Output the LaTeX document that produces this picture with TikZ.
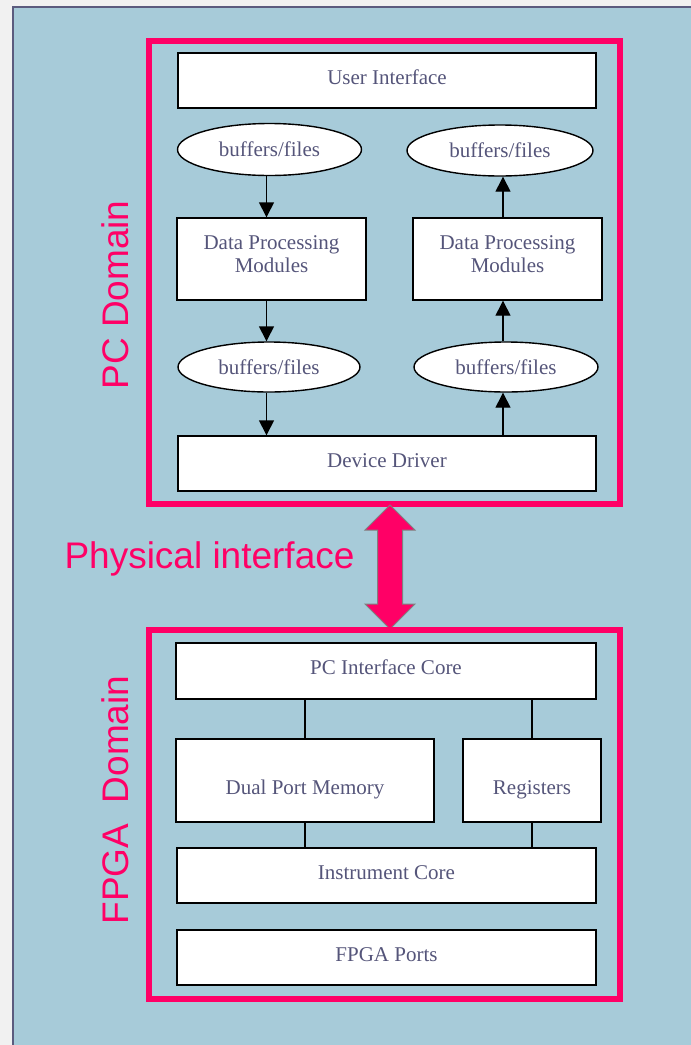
\documentclass[tikz,border=0pt]{standalone}
\usepackage{fontspec}
\setmainfont{Liberation Serif}
\newfontfamily\labelfont{Liberation Sans}
\usetikzlibrary{arrows.meta,shapes.geometric,positioning}

\definecolor{panelblue}{HTML}{A7CBD9}
\definecolor{pagegray}{HTML}{F1F1F1}
\definecolor{rimgray}{HTML}{5B5B7E}
\definecolor{domainpink}{HTML}{FF0066}
\definecolor{textgray}{HTML}{55557A}

\tikzset{
  block/.style={draw=black, fill=white, line width=1.4pt, inner sep=0pt,
    align=center, text=textgray, font=\fontsize{21}{23}\selectfont,
    text height=8pt, text depth=1pt},
  store/.style={draw=black, fill=white, line width=1.4pt, inner sep=0pt,
    ellipse, text=textgray, font=\fontsize{21}{23}\selectfont},
  twoline/.style={text height=32pt, text depth=4.6pt},
  lowline/.style={text height=28pt, text depth=0pt},
  flow/.style={line width=1.4pt, -{Triangle[length=15pt,width=15pt]}},
  link/.style={line width=1.4pt},
  domainframe/.style={draw=domainpink, line width=6pt, minimum width=471pt},
  domainlabel/.style={text=domainpink, font=\labelfont\fontsize{37}{40}\selectfont},
}

\begin{document}
\begin{tikzpicture}[x=1pt,y=-1pt]
  \useasboundingbox (0,0) rectangle (691,1045);
  \fill[pagegray] (0,0) rectangle (691,1045);
  \fill[panelblue] (13,6.5) rectangle (691,1045);
  \draw[rimgray, line width=2pt] (13,1045) -- (13,6.5) -- (691,6.5);

  % PC side
  \node[domainframe, minimum height=463pt] (pcframe) at (384.5,272.5) {};
  \node[block, minimum width=418pt, minimum height=55pt] (ui) at (387,80.5) {User Interface};
  \node[store, minimum width=184pt, minimum height=52pt] (bufa) at (269.5,149.5) {buffers/files};
  \node[store, minimum width=186pt, minimum height=51pt] (bufb) at (500,150.5) {buffers/files};
  \node[block, twoline, minimum width=189pt, minimum height=82pt] (dpa) at (271.5,259) {Data Processing\\Modules};
  \node[block, twoline, minimum width=189pt, minimum height=82pt] (dpb) at (507.5,259) {Data Processing\\Modules};
  \node[store, minimum width=182pt, minimum height=50pt] (bufc) at (269,367) {buffers/files};
  \node[store, minimum width=184pt, minimum height=50pt] (bufd) at (506,367) {buffers/files};
  \node[block, minimum width=418pt, minimum height=55pt] (dd) at (387,463.5) {Device Driver};

  \coordinate (down) at (266.5,0);
  \coordinate (up) at (503,0);
  \draw[flow] (bufa.south -| down) -- (dpa.north -| down);
  \draw[flow] (dpa.south -| down) -- (bufc.north -| down);
  \draw[flow] (bufc.south -| down) -- (dd.north -| down);
  \draw[flow] (dd.north -| up) -- (bufd.south -| up);
  \draw[flow] (bufd.north -| up) -- (dpb.south -| up);
  \draw[flow] (dpb.north -| up) -- (bufb.south -| up);

  \node[domainlabel, rotate=90] (pclabel) at (115,295) {PC Domain};

  % physical link
  \filldraw[fill=domainpink, draw=gray, line width=1pt]
    (390,505) -- (415,530) -- (402.5,530) -- (402.5,604) -- (415,604)
    -- (390,629) -- (365,604) -- (377.5,604) -- (377.5,530) -- (365,530) -- cycle;
  \node[domainlabel] (phys) at (209.5,559) {Physical interface};

  % FPGA side
  \node[domainframe, minimum height=369pt] (fpgaframe) at (384.5,814.5) {};
  \node[block, minimum width=420pt, minimum height=56pt] (pcic) at (386,671) {PC Interface Core};
  \node[block, lowline, minimum width=258pt, minimum height=83pt] (dpm) at (305,780.5) {Dual Port Memory};
  \node[block, lowline, minimum width=138pt, minimum height=83pt] (regs) at (532,780.5) {Registers};
  \node[block, minimum width=419pt, minimum height=55pt] (icore) at (386.5,875.5) {Instrument Core};
  \node[block, minimum width=419pt, minimum height=55pt] (ports) at (386.5,957.5) {FPGA Ports};

  \draw[link] (dpm.north) -- (dpm.north |- pcic.south);
  \draw[link] (regs.north) -- (regs.north |- pcic.south);
  \draw[link] (dpm.south) -- (dpm.south |- icore.north);
  \draw[link] (regs.south) -- (regs.south |- icore.north);

  \node[domainlabel, rotate=90] (fpgalabel) at (115,800) {FPGA~~Domain};
\end{tikzpicture}
\end{document}
